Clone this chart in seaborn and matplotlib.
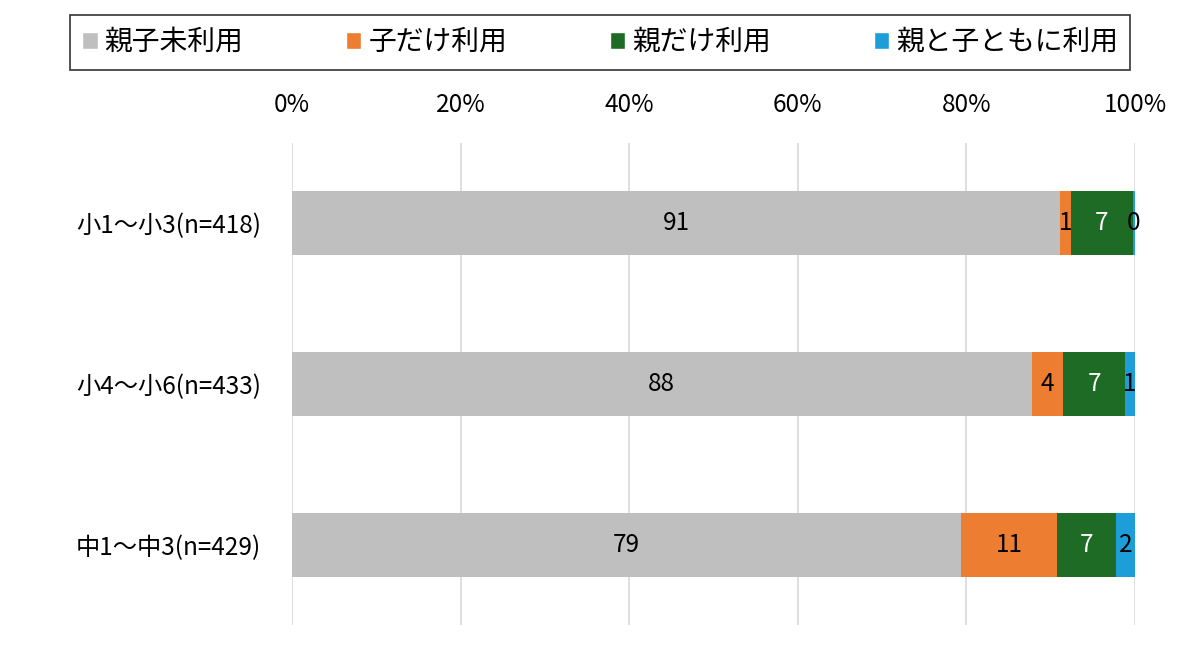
import numpy as np
import pandas as pd
import matplotlib
matplotlib.use("Agg")
from matplotlib import pyplot as plt
from matplotlib.patches import Patch
import seaborn as sn

# data (percent)
groups = ["小1〜小3(n=418)", "小4〜小6(n=433)", "中1〜中3(n=429)"]
series = ["親子未利用", "子だけ利用", "親だけ利用", "親と子ともに利用"]
none_use = [91.1, 87.75, 79.4]
child_only = [1.27, 3.75, 11.39]
parent_only = [7.35, 7.34, 6.96]
both_use = [0.28, 1.16, 2.25]
x_ticks = [0, 20, 40, 60, 80, 100]

colors = ["#BFBFBF", "#ED7D31", "#1E6B25", "#1E9ED8"]
text_colors = ["black", "black", "white", "black"]

sn.set_theme(style="white")
plt.rcParams['font.family'] = ['Noto Sans CJK JP', 'DejaVu Sans']

fig, ax = plt.subplots(figsize=(12, 6.58), dpi=100)
fig.subplots_adjust(left=292 / 1200, right=1135 / 1200, top=1 - 143 / 658, bottom=1 - 625 / 658)

vals = np.array([none_use, child_only, parent_only, both_use])
cum = np.cumsum(vals, axis=0)

# draw cumulative layers, widest first, so each segment shows through
for i in range(len(series) - 1, -1, -1):
    df = pd.DataFrame({"group": groups, "value": cum[i]})
    sn.barplot(data=df, x="value", y="group", color=colors[i], width=0.4,
               saturation=1, linewidth=0, ax=ax)

for i in range(len(series)):
    for j in range(len(groups)):
        center = cum[i][j] - vals[i][j] / 2
        ax.text(center, j, "{:.0f}".format(vals[i][j]), ha="center", va="center",
                fontsize=17.5, color=text_colors[i])

ax.set_xlim(0, 100)
ax.set_ylim(2.5, -0.5)
ax.set_xticks(x_ticks)
ax.set_xticklabels(["{}%".format(t) for t in x_ticks], fontsize=17.5)
ax.xaxis.tick_top()
ax.tick_params(axis="x", length=0, pad=18, colors="black")
ax.tick_params(axis="y", length=0, pad=22, labelsize=17.5, colors="black")
ax.set_xlabel("")
ax.set_ylabel("")
ax.xaxis.grid(True, color="#D9D9D9", linewidth=1.2)
ax.set_axisbelow(True)
sn.despine(ax=ax, left=True, bottom=True, top=True, right=True)

handles = [Patch(facecolor=c) for c in colors]
leg = fig.legend(handles, series, loc="center", ncol=4,
                 bbox_to_anchor=(600 / 1200, 1 - 42 / 658),
                 frameon=True, fancybox=False, edgecolor="black", fontsize=20,
                 handlelength=0.55, handleheight=0.55, handletextpad=0.25,
                 columnspacing=3.7, borderpad=0.45)
leg.get_frame().set_linewidth(1.2)
for t in leg.get_texts():
    t.set_color("black")

fig.savefig("out.png", dpi=100)
